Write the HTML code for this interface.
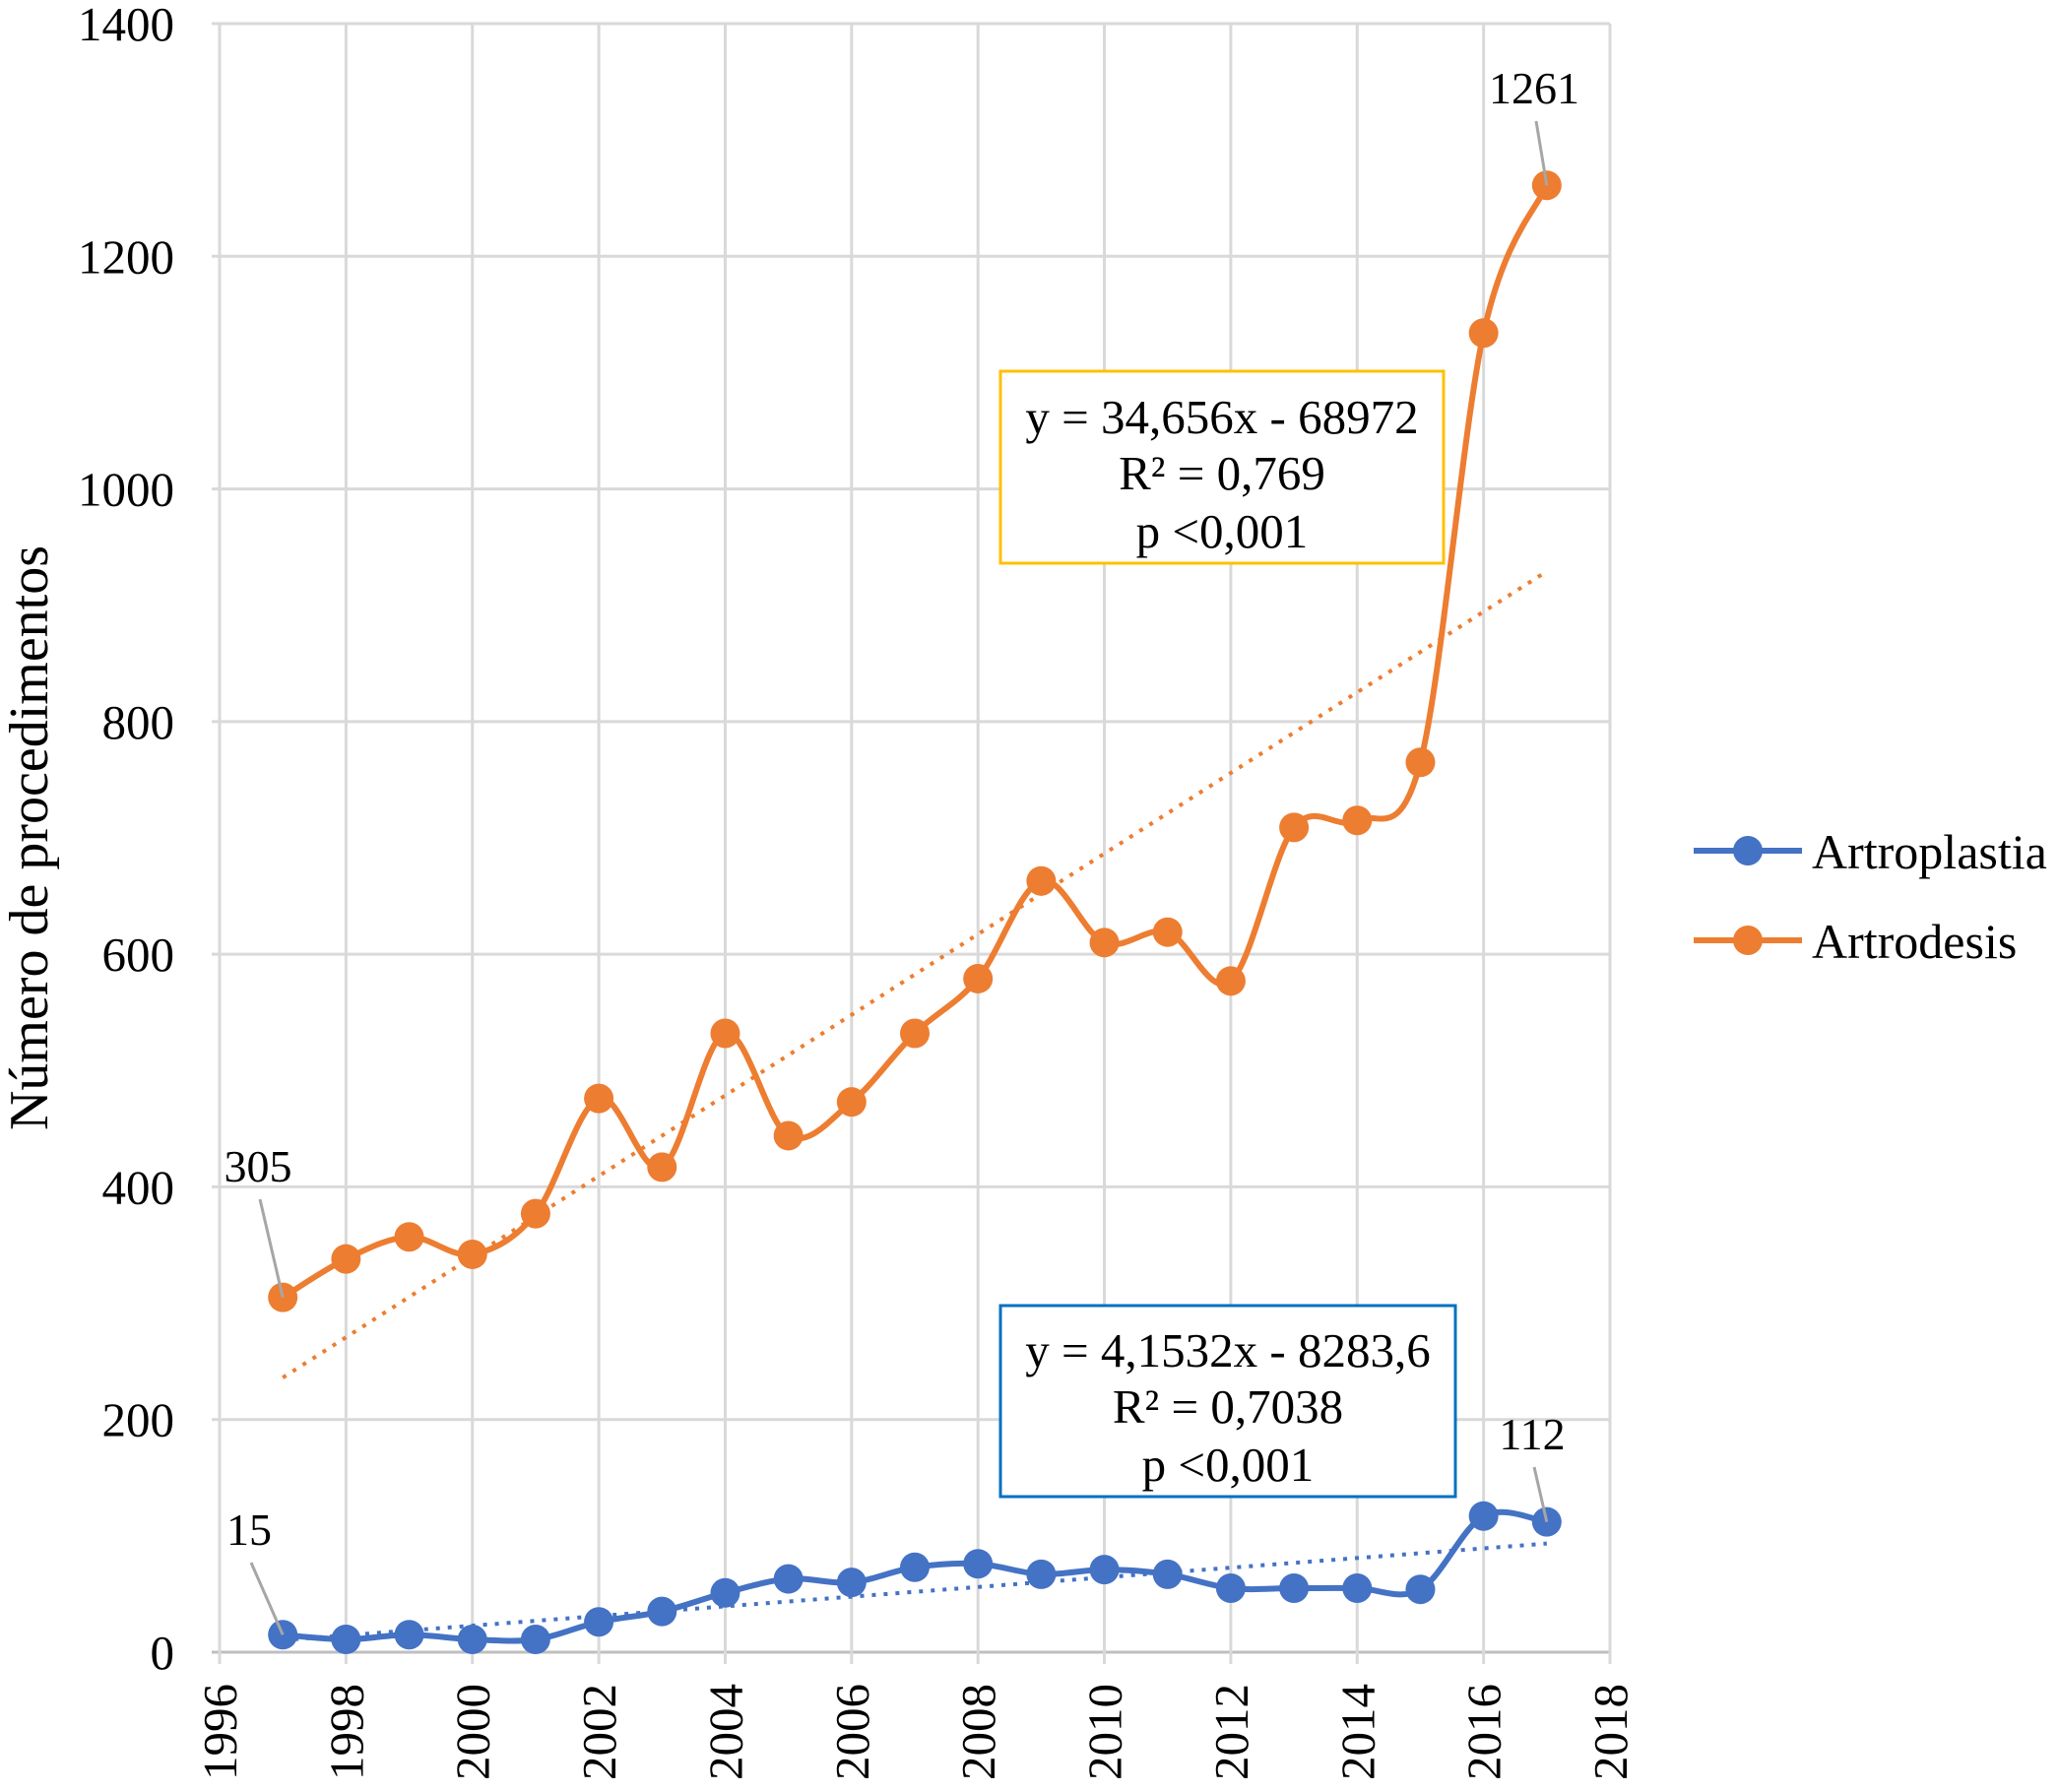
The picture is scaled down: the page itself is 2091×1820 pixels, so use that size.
<!DOCTYPE html>
<html><head><meta charset="utf-8"><style>
body{margin:0;background:#fff}
svg text{font-family:"Liberation Serif",serif;fill:#000}
</style></head><body>
<svg id="chart" width="2091" height="1815" xmlns="http://www.w3.org/2000/svg">
<g id="grid"></g><g id="trends"></g><g id="series"></g><g id="labels"></g>
<rect x="1016" y="377" width="450" height="195" fill="#fff" stroke="#ffc000" stroke-width="3"/>
<text font-size="49" text-anchor="middle" x="1241" y="440">y = 34,656x - 68972</text>
<text font-size="49" text-anchor="middle" x="1241" y="497">R² = 0,769</text>
<text font-size="49" text-anchor="middle" x="1241" y="556">p &lt;0,001</text>
<rect x="1016" y="1326" width="462" height="194" fill="#fff" stroke="#0070c0" stroke-width="3"/>
<text font-size="49" text-anchor="middle" x="1247" y="1388">y = 4,1532x - 8283,6</text>
<text font-size="49" text-anchor="middle" x="1247" y="1445">R² = 0,7038</text>
<text font-size="49" text-anchor="middle" x="1247" y="1504">p &lt;0,001</text>
<text font-size="56" text-anchor="middle" transform="translate(48,851) rotate(-90)">Número de procedimentos</text>
<g>
<line x1="1720" y1="864" x2="1830" y2="864" stroke="#4472c4" stroke-width="6"/><circle cx="1775" cy="864" r="15" fill="#4472c4"/>
<text font-size="50" x="1840" y="882">Artroplastia</text>
<line x1="1720" y1="955" x2="1830" y2="955" stroke="#ed7d31" stroke-width="6"/><circle cx="1775" cy="955" r="15" fill="#ed7d31"/>
<text font-size="50" x="1840" y="973">Artrodesis</text>
</g>
</svg>
<script>
const years=[1997,1998,1999,2000,2001,2002,2003,2004,2005,2006,2007,2008,2009,2010,2011,2012,2013,2014,2015,2016,2017];
const artrodesis=[305,338,357,342,377,476,417,532,444,473,532,579,663,610,619,577,709,715,765,1134,1261];
const artroplastia=[15,11,15,11,11,26,35,51,63,60,73,76,67,71,67,55,55,55,54,117,112];
const yTicks=[0,200,400,600,800,1000,1200,1400];
const xTicks=[1996,1998,2000,2002,2004,2006,2008,2010,2012,2014,2016,2018];
const trendArtrodesis=[34.656,-68972];
const trendArtroplastia=[4.1532,-8283.6];
const NS='http://www.w3.org/2000/svg';
const X=v=>223+(v-1996)*(1635-223)/22;
const Y=v=>1678-v*(1678-24)/1400;
function mk(t,a,p){const e=document.createElementNS(NS,t);for(const k in a)e.setAttribute(k,a[k]);p.appendChild(e);return e;}
const grid=document.getElementById('grid');
yTicks.forEach(t=>{
 const l=mk('line',{x1:X(1996)-8,x2:X(2018),y1:Y(t),y2:Y(t),stroke:t===0?'#bfbfbf':'#d9d9d9','stroke-width':3},grid);
 
 
 const tx=mk('text',{x:177,y:Y(t)+17,'font-size':49,'text-anchor':'end'},grid);tx.textContent=t;
 
 
});
xTicks.forEach(t=>{
 const l=mk('line',{x1:X(t),x2:X(t),y1:Y(1400),y2:Y(0)+12,stroke:'#d9d9d9','stroke-width':3},grid);
 
 
 const tx=mk('text',{'font-size':49,'text-anchor':'end',transform:`translate(${X(t)+17},1710) rotate(-90)`},grid);tx.textContent=t;
 
 
});
const trends=document.getElementById('trends');
[[trendArtrodesis,'#ed7d31'],[trendArtroplastia,'#4472c4']].forEach(([c,col])=>{
 const a=years[0],b=years[years.length-1];
 const l=mk('line',{x1:X(a),y1:Y(c[0]*a+c[1]),x2:X(b),y2:Y(c[0]*b+c[1]),stroke:col,'stroke-width':4,'stroke-dasharray':'4 8'},trends);
 
 
});
function smooth(pts){let d=`M${pts[0][0]},${pts[0][1]}`;for(let i=0;i<pts.length-1;i++){const p0=pts[i-1]||pts[i],p1=pts[i],p2=pts[i+1],p3=pts[i+2]||p2;const t=6;d+=` C${p1[0]+(p2[0]-p0[0])/t},${p1[1]+(p2[1]-p0[1])/t} ${p2[0]-(p3[0]-p1[0])/t},${p2[1]-(p3[1]-p1[1])/t} ${p2[0]},${p2[1]}`;}return d;}
const series=document.getElementById('series');
[[artrodesis,'#ed7d31','artrodesis'],[artroplastia,'#4472c4','artroplastia']].forEach(([vals,col,nm])=>{
 const pts=years.map((y,i)=>[X(y),Y(vals[i])]);
 const p=mk('path',{d:smooth(pts),fill:'none',stroke:col,'stroke-width':6},series);
 
 
 pts.forEach(q=>{const c=mk('circle',{cx:q[0],cy:q[1],r:15,fill:col},series);
 
 });
});
const labels=document.getElementById('labels');
function lab(v,i,vals,tx,ty,nm){
 const l=mk('line',{x1:tx+2,y1:ty+18,x2:X(years[i]),y2:Y(vals[i]),stroke:'#a6a6a6','stroke-width':3},labels);
 
 
 const t=mk('text',{x:tx,y:ty,'font-size':46,'text-anchor':'middle',fill:nm==='l1261'?'#000':'#404040'},labels);t.textContent=v;
 
 
}
lab(artrodesis[0],0,artrodesis,262,1200,'l305');
lab(artrodesis[20],20,artrodesis,1558,105,'l1261');
lab(artroplastia[0],0,artroplastia,253,1569,'l15');
lab(artroplastia[20],20,artroplastia,1556,1472,'l112');
</script>
</body></html>
